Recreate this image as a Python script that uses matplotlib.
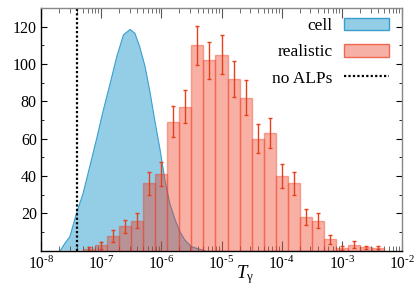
import numpy as np
import matplotlib
matplotlib.use("Agg")
import matplotlib.pyplot as plt
from matplotlib.patches import Patch
from matplotlib.lines import Line2D
from matplotlib.ticker import LogLocator, FixedLocator, NullFormatter, FuncFormatter, MultipleLocator

plt.rcParams['font.family'] = ['Liberation Serif', 'DejaVu Serif']
plt.rcParams['mathtext.fontset'] = 'custom'
plt.rcParams['mathtext.rm'] = 'Liberation Serif'
plt.rcParams['mathtext.it'] = 'Liberation Serif:italic'
plt.rcParams['mathtext.default'] = 'regular'

# ---- data ----
# "realistic" histogram: left bin edges (log10 T), bin width 0.2 decades
real_left_log = [-7.3, -7.1, -6.9, -6.7, -6.5, -6.3, -6.1, -5.9, -5.7, -5.5,
                 -5.3, -5.1, -4.9, -4.7, -4.5, -4.3, -4.1, -3.9, -3.7, -3.5,
                 -3.3, -3.1, -2.9, -2.7, -2.5]
real_counts = [0.9, 2.9, 7.8, 13, 16, 36, 41, 69, 77, 110,
               102, 105, 92, 82, 60, 63, 40, 36, 18, 16,
               6.1, 1.2, 3.2, 1.8, 1.5]
real_err = [0.9, 1.9, 3.0, 3.6, 4.0, 6.0, 6.4, 8.3, 8.8, 10.5,
            10.0, 10.3, 9.6, 9.2, 7.8, 8.0, 6.3, 6.0, 4.2, 3.9,
            2.4, 1.0, 1.8, 0.8, 0.9]
bin_width_log = 0.2

# "cell" smooth distribution
cell_logT = [-7.68, -7.60, -7.52, -7.41, -7.30, -7.19, -7.08, -6.97, -6.85, -6.74,
             -6.63, -6.52, -6.44, -6.36, -6.27, -6.19, -6.11, -6.02, -5.94, -5.86,
             -5.77, -5.69, -5.61, -5.50, -5.36, -5.28]
cell_vals = [0, 4, 7.5, 20, 30.7, 45, 59.3, 74.5, 89.7, 104,
             115.6, 118.5, 116.5, 109.3, 98.6, 85.2, 70, 53.9, 37.7, 25.4,
             16.4, 10.1, 5.7, 2.1, 0.7, 0]

no_alps_T = 4.0e-8

xtick_exps = [-8, -7, -6, -5, -4, -3, -2]
ytick_vals = [20, 40, 60, 80, 100, 120]

# ---- colours ----
blue_fill = '#94cde6'
blue_edge = '#3a9fd0'
bar_color = '#ee3a1f'
err_color = '#e8401c'

fig = plt.figure(figsize=(4.15, 2.92), dpi=100)
ax = fig.add_axes([41/415, 1 - 250.6/292, 361/415, 242.6/292])

cx = 10.0 ** np.array(cell_logT)
ax.fill_between(cx, 0, cell_vals, facecolor=blue_fill, edgecolor='none', zorder=1)
ax.plot(cx, cell_vals, color=blue_edge, lw=0.8, zorder=1.5)

left = 10.0 ** np.array(real_left_log)
right = 10.0 ** (np.array(real_left_log) + bin_width_log)
ax.bar(left, real_counts, width=right - left, align='edge',
       color=bar_color, alpha=0.4, edgecolor=bar_color, linewidth=1.0, zorder=2)
centers = np.sqrt(left * right)
ax.errorbar(centers, real_counts, yerr=real_err, fmt='none', ecolor=err_color,
            elinewidth=1.0, capsize=1.6, capthick=1.0, zorder=3)

ax.axvline(no_alps_T, color='black', lw=1.6, linestyle=(0, (1, 1)), zorder=4)

ax.set_xscale('log')
ax.set_xlim(1e-8, 1e-2)
ax.set_ylim(0, 130)

ax.xaxis.set_major_locator(FixedLocator([10.0 ** e for e in xtick_exps]))
ax.xaxis.set_minor_locator(LogLocator(base=10, subs=np.arange(2, 10), numticks=20))
ax.xaxis.set_minor_formatter(NullFormatter())
ax.xaxis.set_major_formatter(FuncFormatter(
    lambda v, p: r'$10^{\text{-}%d}$' % abs(int(round(np.log10(v))))))
ax.yaxis.set_major_locator(FixedLocator(ytick_vals))
ax.yaxis.set_minor_locator(MultipleLocator(10))

ax.tick_params(axis='x', which='both', direction='in', top=True, bottom=True,
               colors='#555555', labelcolor='black', labelsize=11.2, pad=4)
ax.tick_params(axis='x', which='major', length=7)
ax.tick_params(axis='x', which='minor', length=3.5)
ax.tick_params(axis='y', which='both', direction='in', left=True, right=True,
               labelsize=11.5, pad=3)
ax.tick_params(axis='y', which='major', length=4)
ax.tick_params(axis='y', which='minor', length=2.5)

for s in ['top', 'right']:
    ax.spines[s].set_color('#888888')
for s in ['left', 'bottom']:
    ax.spines[s].set_color('black')
for sp in ax.spines.values():
    sp.set_linewidth(1.0)
    sp.set_zorder(5)

ax.text((245 - 41) / 361, -0.052, r'$\mathit{T}_{\mathrm{γ}}$', transform=ax.transAxes,
        ha='center', va='top', fontsize=13.5)

handles = [Patch(facecolor=blue_fill, edgecolor=blue_edge, lw=1.0),
           Patch(facecolor=(0.93, 0.23, 0.12, 0.4), edgecolor='#f06850', lw=1.0),
           Line2D([0], [0], color='black', lw=1.6, linestyle=(0, (1, 1)))]
labels = ['cell', 'realistic', 'no ALPs']
leg = ax.legend(handles, labels, loc='upper right',
                bbox_to_anchor=((388.7 - 41) / 361, (250.6 - 17.5) / 242.6),
                frameon=False, markerfirst=False, fontsize=12.5,
                handlelength=2.6, handleheight=0.75, handletextpad=0.62,
                labelspacing=0.57, borderpad=0, borderaxespad=0)

fig.savefig('out.png', dpi=100)
